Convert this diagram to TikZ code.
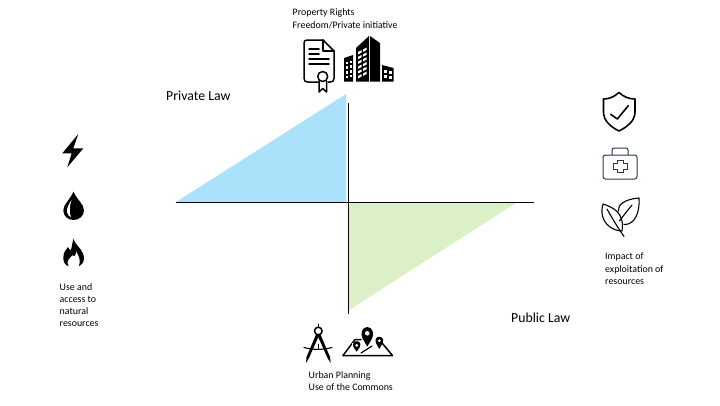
\documentclass[tikz,border=0pt]{standalone}
\usepackage{fontspec}
\setmainfont{Carlito}
\definecolor{skyfill}{HTML}{A9E2FA}
\definecolor{leaffill}{HTML}{DCF0C8}
\definecolor{navy}{HTML}{2B3550}
\tikzset{
  small/.style={inner sep=0pt,anchor=north west,align=left,font=\fontsize{9.9}{12.2}\selectfont},
  big/.style={inner sep=0pt,anchor=base west,font=\fontsize{13.8}{16}\selectfont},
  axis/.style={line width=1pt,black},
  ink/.style={line width=1.5pt,black,line join=round,line cap=round}
}
\begin{document}
\begin{tikzpicture}[x=1pt,y=-1pt]
\useasboundingbox (0,0) rectangle (720,405);
% quadrants
\fill[skyfill] (176,202) -- (346,94) -- (346,202) -- cycle;
\fill[leaffill] (349,203) -- (516,203) -- (349,310) -- cycle;
\coordinate (west) at (176,202.5);
\coordinate (east) at (534,202.5);
\coordinate (north) at (348,103);
\coordinate (south) at (348,314);
\draw[axis] (west) -- (east);
\draw[axis] (north) -- (south);
% texts
\node[small,font=\fontsize{9.9}{12.8}\selectfont] (top) at (292.5,8.5) {Property Rights\\Freedom/Private initiative};
\node[big] (priv) at (166,100) {Private Law};
\node[big] (pub) at (511,322) {Public Law};
\node[small] (left) at (59.5,283) {Use and\\access to\\natural\\resources};
\node[small] (right) at (605,253) {Impact of\\exploitation of\\resources};
\node[small] (bot) at (308.5,371) {Urban Planning\\Use of the Commons};
% certificate
\draw[ink] (318,82) -- (308,82) .. controls (305,82) and (304,81) .. (304,78) -- (304,43) .. controls (304,41) and (305,40) .. (307,40) -- (323,40) -- (334,51) -- (334,78) .. controls (334,81) and (333,82) .. (330,82) -- (328,82);
\draw[ink] (323,40) -- (323,51) -- (334,51);
\draw[ink] (309,49) -- (319,49) (309,54) -- (319,54) (309,59) -- (329,59) (309,64) -- (329,64);
\draw[ink] (322.7,76.5) circle (5);
\draw[ink] (319,81) -- (319,92) -- (322.7,88.5) -- (326.5,92) -- (326.5,81);
% buildings
\fill (356,48) -- (369,36) -- (369,81.5) -- (356,81.5) -- cycle;
\fill (370,36) -- (380,43) -- (380,81.5) -- (370,81.5) -- cycle;
\fill (344,58) -- (353,55) -- (353,81.5) -- (344,81.5) -- cycle;
\fill (382,65) -- (393.5,68) -- (393.5,81.5) -- (382,81.5) -- cycle;
\foreach \r in {0,1,2,3,4,5}{
  \fill[white] (358,{52+\r*4.8}) -- ++(3.5,-1.8) -- ++(0,2.4) -- ++(-3.5,1.8) -- cycle;
  \fill[white] (363,{49.5+\r*4.8}) -- ++(3.5,-1.8) -- ++(0,2.4) -- ++(-3.5,1.8) -- cycle;
}
\foreach \r in {0,1,2,3}{
  \fill[white] (345.5,{61.5+\r*4.8}) rectangle ++(2.6,2.4);
  \fill[white] (349.5,{60.5+\r*4.8}) rectangle ++(2.6,2.4);
}
\foreach \r in {0,1}{
  \fill[white] (384,{70+\r*5}) rectangle ++(3.2,2.6);
  \fill[white] (388.7,{71+\r*5}) rectangle ++(3.2,2.6);
}
% bolt
\fill (78.3,134) -- (62.3,153.3) -- (71.7,153.3) -- (67.3,167.3) -- (83.3,148.3) -- (73.3,148.3) -- cycle;
% drop
\fill (73.5,191.5) .. controls (70,200) and (63.3,204) .. (63.3,210.5) .. controls (63.3,216) and (68,220) .. (73.5,220) .. controls (79,220) and (84,216) .. (84,210.5) .. controls (84,204) and (77,200) .. (73.5,191.5) -- cycle;
\fill[white] (71.5,200) .. controls (69,204) and (66.5,208) .. (67,212) .. controls (67.5,215) and (69,216.5) .. (71,217) .. controls (69,213) and (69.5,206) .. (71.5,200) -- cycle;
% flame
\fill (73.5,238.5) .. controls (74,244) and (84,250) .. (84,258) .. controls (84,262) and (82,265) .. (79,266.3) .. controls (81,260) and (79,256) .. (76,251) .. controls (76,256) and (74,257) .. (72.5,255) .. controls (70,258) and (65.5,261) .. (68.5,266.3) .. controls (65,265) and (63.3,262) .. (63.3,258) .. controls (63.3,252) and (66,250) .. (68,247) .. controls (69,249) and (70,250) .. (71,250) .. controls (72,246) and (72.5,242) .. (73.5,238.5) -- cycle;
% shield
\draw[ink,line width=1.6pt] (619,92.5) .. controls (614,97) and (609,99) .. (603.5,99) -- (603.5,112) .. controls (603.5,121) and (611,127) .. (619,131) .. controls (627,127) and (635,121) .. (635,112) -- (635,99) .. controls (629,99) and (624,97) .. (619,92.5) -- cycle;
\draw[ink,line width=1.6pt] (610.7,114.3) -- (617.3,119) -- (628.3,105.7);
% case
\draw[navy,line width=1pt,rounded corners=2.5pt] (603,155) rectangle (637,179);
\draw[navy,line width=1pt,rounded corners=2pt] (612,155) -- (612,148) -- (628,148) -- (628,155);
\draw[navy,line width=1pt] (617,160) -- (623,160) -- (623,163.5) -- (627,163.5) -- (627,169) -- (623,169) -- (623,172.5) -- (617,172.5) -- (617,169) -- (613,169) -- (613,163.5) -- (617,163.5) -- cycle;
% leaves
\draw[ink,line width=1.1pt] (603,204) .. controls (612,207) and (625,212) .. (622,231) .. controls (612,231) and (598,222) .. (603,204) -- cycle;
\draw[ink,line width=1.1pt] (607,209) .. controls (612,218) and (618,228) .. (624,236.5);
\draw[ink,line width=1.1pt] (618.5,211) .. controls (617,205) and (625,199) .. (639,198) .. controls (640,212) and (635,225) .. (624,224.5);
\draw[ink,line width=1.1pt] (632,205) .. controls (628,210) and (623,216) .. (619.5,221);
% compass
\draw[ink,line width=1.5pt] (318.3,331) circle (3.8);
\draw[ink,line width=1pt] (318.3,324) -- (318.3,327);
\fill (316,334.5) -- (319,335.5) -- (309,358) -- (306,363) -- (306.5,357) -- cycle;
\fill (320.5,334.5) -- (317.5,335.5) -- (327.5,358) -- (330.7,363) -- (330,357) -- cycle;
\draw[ink,line width=1.1pt] (304,347.5) .. controls (313,350) and (323,350) .. (332,347.5);
\draw[ink,line width=1pt] (318.3,344) -- (318.3,349);
% map
\draw[ink,line width=1.5pt] (343,355.5) -- (355,339.5) -- (361,339.5);
\draw[ink,line width=1.5pt] (343,355.5) -- (392.5,355.5) -- (382,343);
\draw[ink,line width=1.2pt] (361,353) -- (372,346);
\fill (367.3,346.7) -- (362.6,338.5) .. controls (360,334) and (362,327) .. (367.3,327) .. controls (372.6,327) and (374.6,334) .. (372,338.5) -- cycle;
\fill[white] (367.3,333.3) circle (2.3);
\fill (379.3,349) -- (376.2,343.5) .. controls (374.5,340) and (376,336.8) .. (379.3,336.8) .. controls (382.6,336.8) and (384.1,340) .. (382.4,343.5) -- cycle;
\fill[white] (379.3,340.7) circle (1.5);
\fill[white] (352,343) rectangle (361.5,352);
\fill (356.7,351.7) -- (353.8,347.5) .. controls (352,344) and (353.5,341.2) .. (356.7,341.2) .. controls (359.9,341.2) and (361.4,344) .. (359.6,347.5) -- cycle;
\fill[white] (356.7,345.3) circle (1.5);
\end{tikzpicture}
\end{document}
